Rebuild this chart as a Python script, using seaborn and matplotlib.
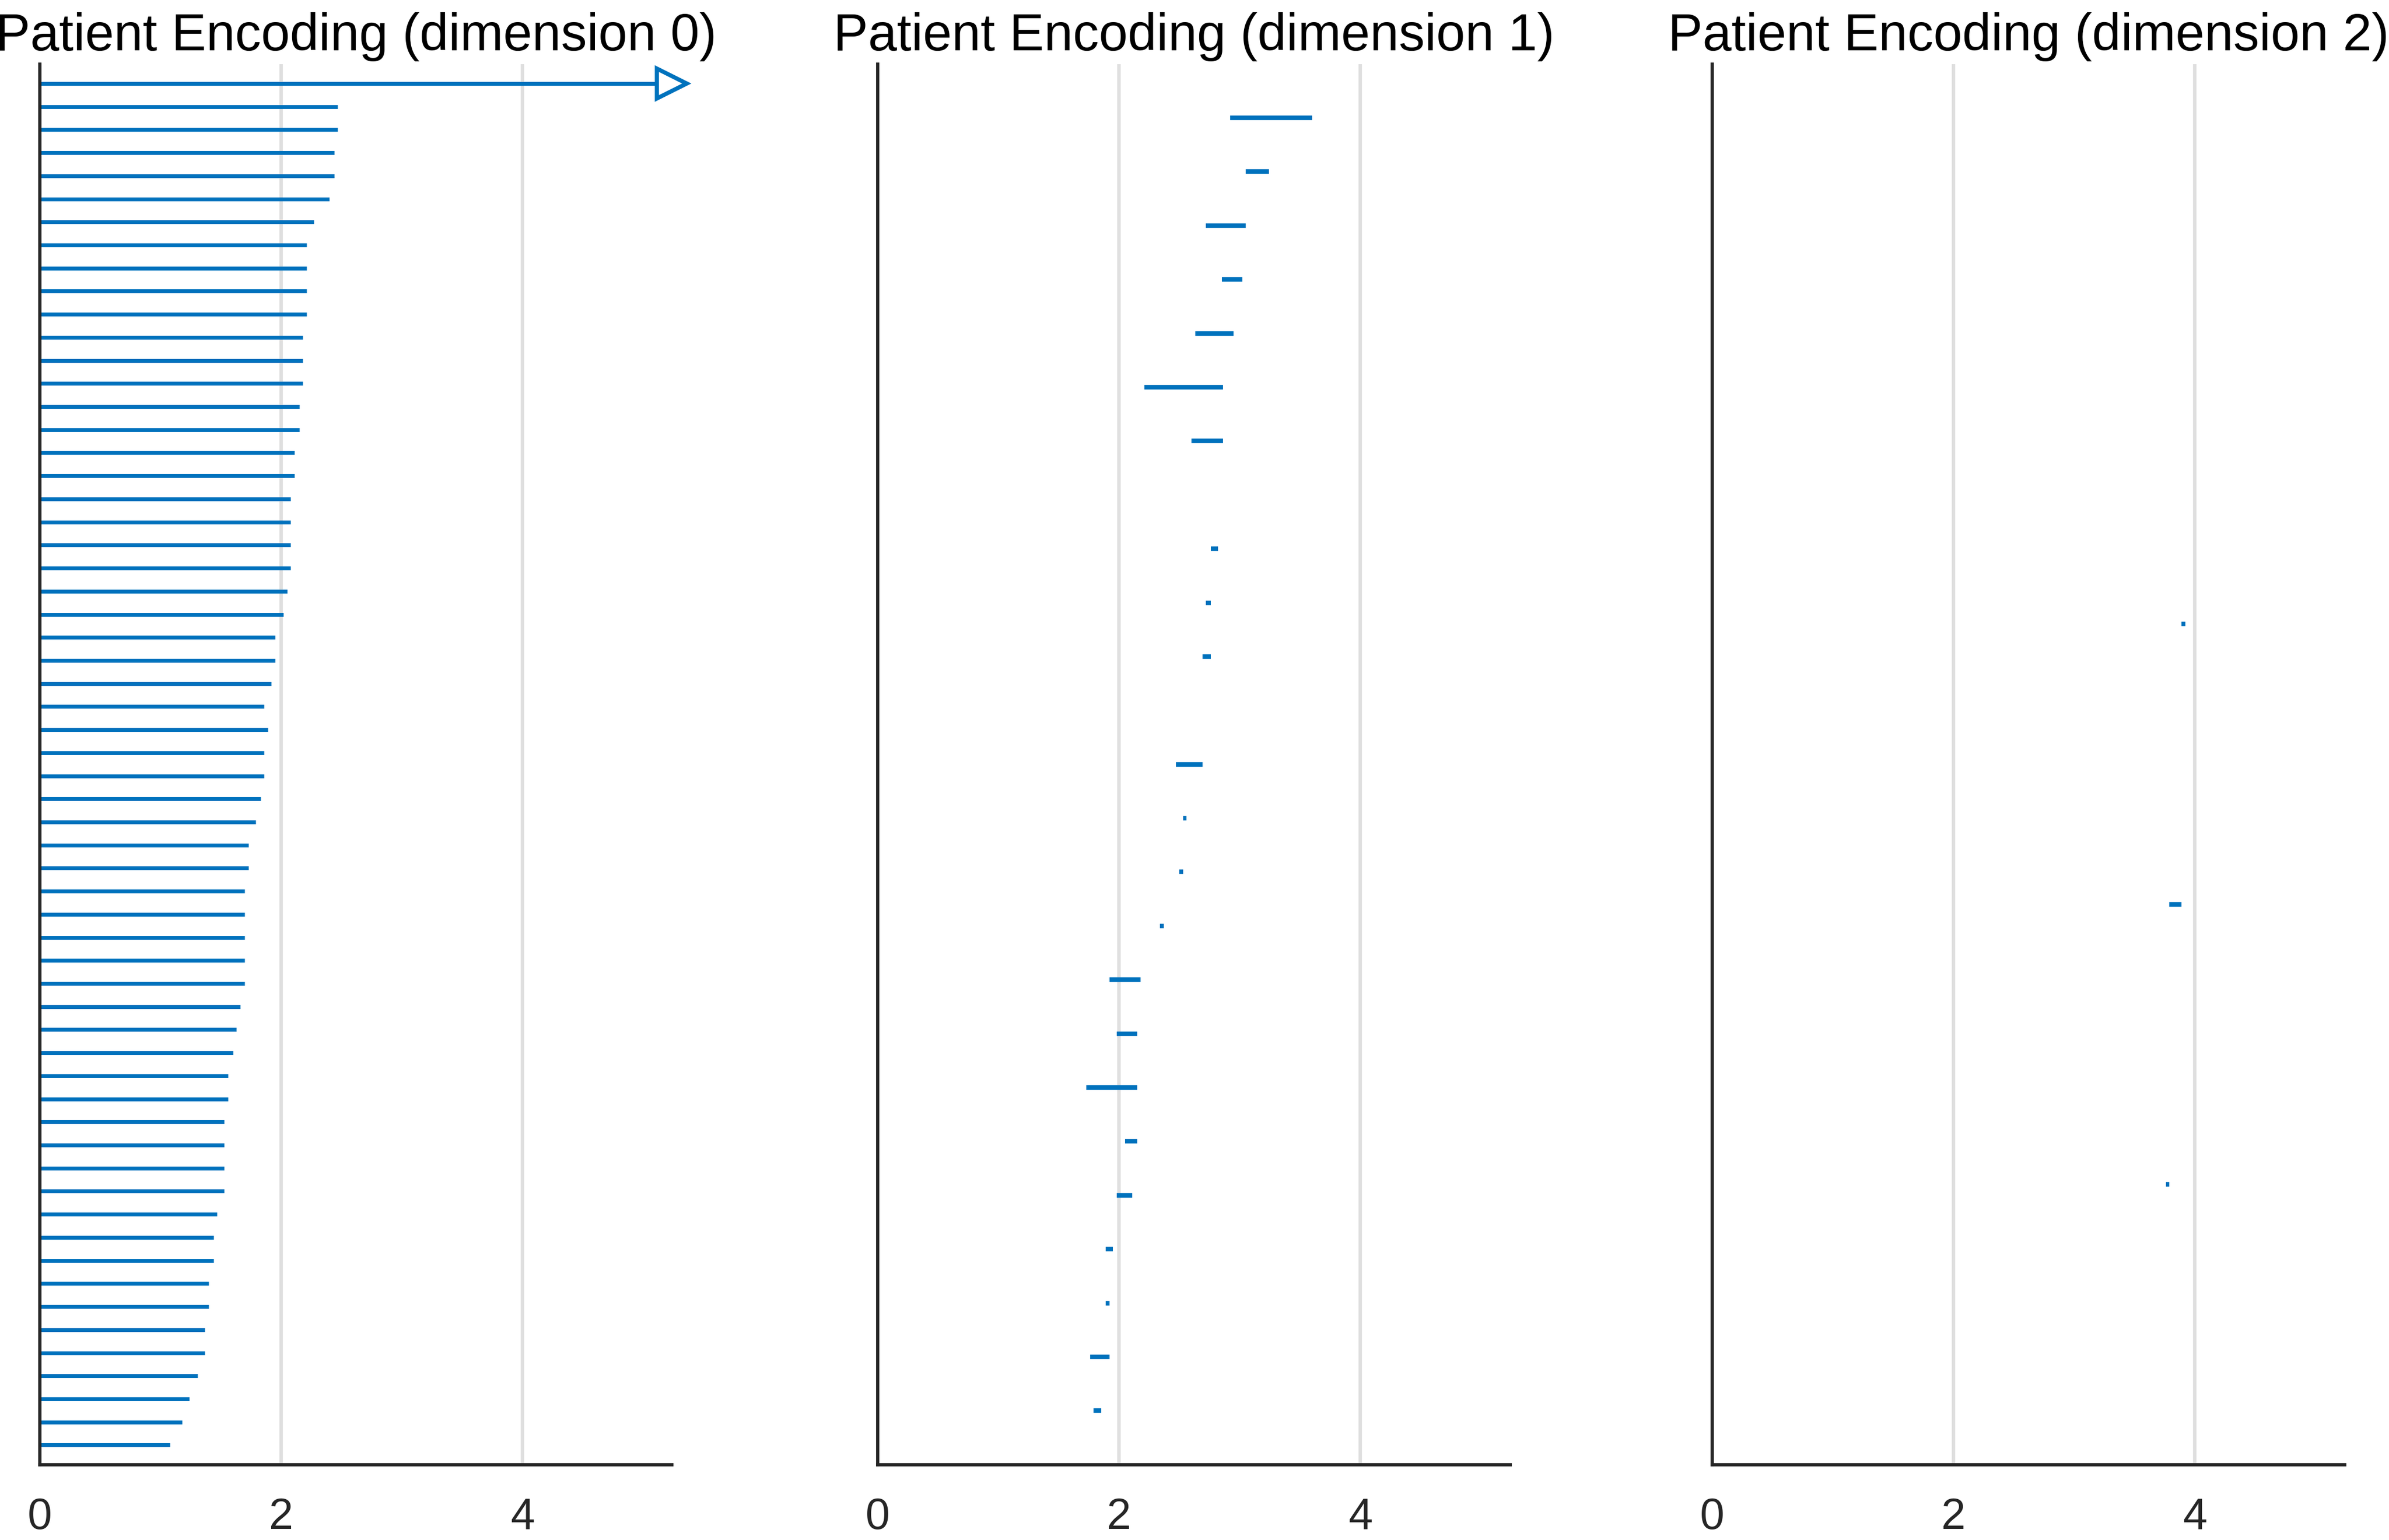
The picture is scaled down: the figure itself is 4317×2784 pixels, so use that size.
import matplotlib.pyplot as plt
import pandas as pd
import seaborn as sns

BLUE = "#0072BD"
AXIS_COLOR = "#262626"
GRID_COLOR = "#dfdfdf"
X_MAX = 5.24
X_TICKS = [0, 2, 4]

TITLES = [
    "Patient Encoding (dimension 0)",
    "Patient Encoding (dimension 1)",
    "Patient Encoding (dimension 2)",
]

# dimension 0: one bar per row, the first one runs past the axis end
DIM0_ROWS = list(range(1, 61))
DIM0_VALUES = [
    5.60, 2.47, 2.47, 2.44, 2.44, 2.40, 2.27, 2.21, 2.21, 2.21,
    2.21, 2.18, 2.18, 2.18, 2.15, 2.15, 2.11, 2.11, 2.08, 2.08,
    2.08, 2.08, 2.05, 2.02, 1.95, 1.95, 1.92, 1.86, 1.89, 1.86,
    1.86, 1.83, 1.79, 1.73, 1.73, 1.70, 1.70, 1.70, 1.70, 1.70,
    1.66, 1.63, 1.60, 1.56, 1.56, 1.53, 1.53, 1.53, 1.53, 1.47,
    1.44, 1.44, 1.40, 1.40, 1.37, 1.37, 1.31, 1.24, 1.18, 1.08,
]

# dimension 1: ranges on 25 rows (rows 8 and 12 are empty)
DIM1_ROWS = [1, 2, 3, 4, 5, 6, 7, 9, 10, 11, 13, 14, 15, 16, 17, 18, 19, 20,
             21, 22, 23, 24, 25]
DIM1_LOW = [2.92, 3.05, 2.72, 2.85, 2.63, 2.21, 2.60, 2.76, 2.72, 2.69, 2.47,
            2.53, 2.50, 2.34, 1.92, 1.98, 1.73, 2.05, 1.98, 1.89, 1.89, 1.76,
            1.79]
DIM1_HIGH = [3.60, 3.24, 3.05, 3.02, 2.95, 2.86, 2.86, 2.82, 2.76, 2.76, 2.69,
             2.56, 2.53, 2.37, 2.18, 2.15, 2.15, 2.15, 2.11, 1.95, 1.92, 1.92,
             1.85]

# dimension 2: ranges on 4 rows (row 1 is empty)
DIM2_ROWS = [2, 3, 4]
DIM2_LOW = [3.89, 3.79, 3.76]
DIM2_HIGH = [3.92, 3.89, 3.79]


def segments(rows, low, high):
    return pd.DataFrame(
        {"row": list(rows) + list(rows), "value": list(low) + list(high)}
    )


def style_axis(ax, title, ylim):
    ax.set_xlim(0, X_MAX)
    ax.set_ylim(*ylim)
    ax.set_xticks(X_TICKS)
    ax.set_yticks([])
    ax.set_xlabel("")
    ax.set_ylabel("")
    ax.xaxis.grid(True, color=GRID_COLOR, linewidth=1.5)
    ax.set_axisbelow(True)
    for side in ("top", "right"):
        ax.spines[side].set_visible(False)
    for side in ("left", "bottom"):
        ax.spines[side].set_color(AXIS_COLOR)
        ax.spines[side].set_linewidth(1.4)
    ax.tick_params(
        axis="x", direction="in", length=5.5, width=1.4, color=AXIS_COLOR,
        labelsize=19, labelcolor=AXIS_COLOR, pad=14,
    )
    ax.set_title(title, fontsize=22.5, color="black", pad=6)


def draw(ax, data, width):
    sns.lineplot(
        data=data, x="value", y="row", units="row", estimator=None,
        orient="y", sort=False, color=BLUE, linewidth=width,
        solid_capstyle="butt", legend=False, ax=ax,
    )


def main():
    sns.set_theme(style="white")
    plt.rcParams["font.family"] = ["Liberation Sans", "DejaVu Sans"]

    fig = plt.figure(figsize=(4317 / 300, 2784 / 300), dpi=300)
    lefts = (0.0166, 0.3674, 0.7167)
    axes = [fig.add_axes([left, 0.0489, 0.2647, 0.9096]) for left in lefts]

    dim0 = segments(DIM0_ROWS, [0.0] * len(DIM0_ROWS), DIM0_VALUES)
    draw(axes[0], dim0, 1.7)
    over = [r for r, v in zip(DIM0_ROWS, DIM0_VALUES) if v > X_MAX]
    axes[0].plot(
        [X_MAX] * len(over), over, ">", markersize=13, markerfacecolor="white",
        markeredgecolor=BLUE, markeredgewidth=1.8, clip_on=False, zorder=5,
    )
    style_axis(axes[0], TITLES[0], (60.85, 0.15))

    draw(axes[1], segments(DIM1_ROWS, DIM1_LOW, DIM1_HIGH), 2.0)
    style_axis(axes[1], TITLES[1], (26, 0))

    draw(axes[2], segments(DIM2_ROWS, DIM2_LOW, DIM2_HIGH), 2.0)
    style_axis(axes[2], TITLES[2], (5, 0))

    fig.savefig("out.png", dpi=300)


if __name__ == "__main__":
    main()
